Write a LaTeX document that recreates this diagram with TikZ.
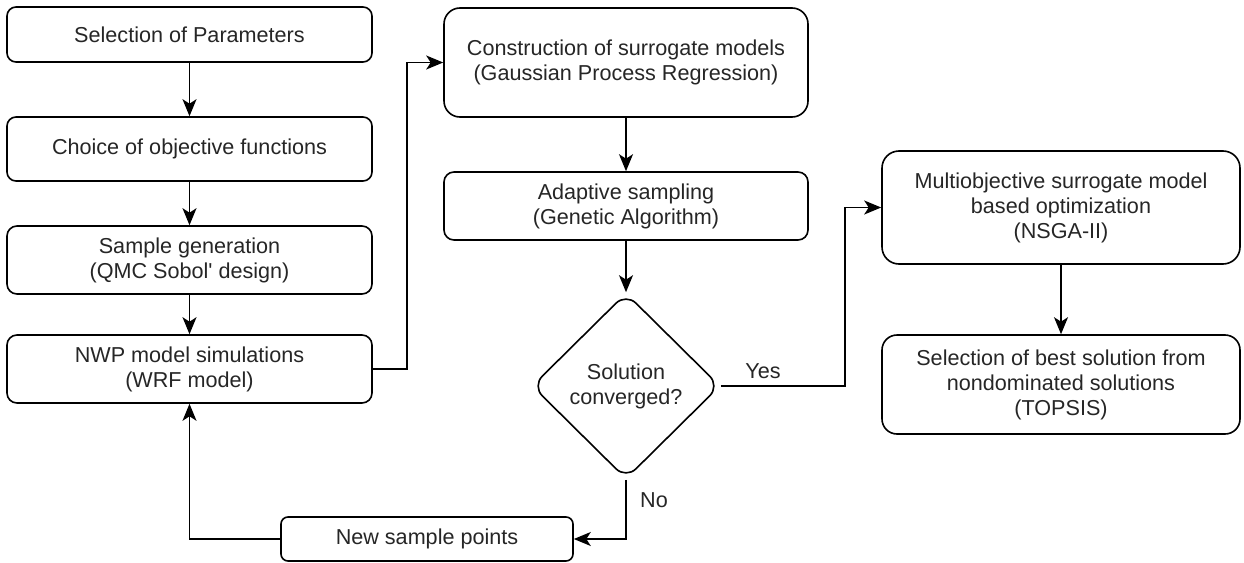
\documentclass[tikz,border=0pt]{standalone}
\usepackage{fontspec}
\setmainfont{Liberation Sans}
\usetikzlibrary{shapes.geometric,arrows.meta,calc}
\begin{document}
\begin{tikzpicture}[x=1pt,y=-1pt,
  every node/.style={font=\fontsize{21.6}{25}\selectfont, text=black!85},
  box/.style={draw, line width=1.6pt, rectangle, align=center, inner sep=0pt},
  flow/.style={draw, line width=1.6pt, -{Stealth[length=17pt,width=14pt,inset=4.5pt]}},
  plain/.style={draw, line width=1.6pt}]
\useasboundingbox (0,0) rectangle (1244,562);
\fill[white] (0,0) rectangle (1244,562);

\node[box, rounded corners=9pt, minimum width=365pt, minimum height=55pt] (sel) at (189.5,34.5) {Selection of Parameters};
\node[box, rounded corners=9pt, minimum width=365pt, minimum height=64pt] (choice) at (189.5,149) {Choice of objective functions};
\node[box, rounded corners=10pt, minimum width=365pt, minimum height=68pt] (sample) at (189.5,260) {Sample generation\\(QMC Sobol\textquotesingle{} design)};
\node[box, rounded corners=10pt, minimum width=365pt, minimum height=68pt] (nwp) at (189.5,369) {NWP model simulations\\(WRF model)};

\node[box, rounded corners=16pt, minimum width=364pt, minimum height=109pt] (cons) at (626,62.5) {Construction of surrogate models\\(Gaussian Process Regression)};
\node[box, rounded corners=10pt, minimum width=364pt, minimum height=68pt] (adapt) at (626,206) {Adaptive sampling\\(Genetic Algorithm)};
\node[draw, line width=1.6pt, diamond, rounded corners=14pt, minimum width=188pt, minimum height=186pt, inner sep=0pt, align=center] (dia) at (626,386) {Solution\\converged?};

\node[box, rounded corners=17pt, minimum width=358pt, minimum height=113pt] (multi) at (1061,207.5) {Multiobjective surrogate model\\based optimization\\(NSGA-II)};
\node[box, rounded corners=15pt, minimum width=358pt, minimum height=99pt] (best) at (1061,384.5) {Selection of best solution from\\nondominated solutions\\(TOPSIS)};

\node[box, rounded corners=7pt, minimum width=292pt, minimum height=44pt] (newsp) at (427,539) {New sample points};

\coordinate (jx) at (407,0);
\coordinate (jy) at (845,0);

\path[flow] (sel.south) -- (choice.north);
\path[flow] (choice.south) -- (sample.north);
\path[flow] (sample.south) -- (nwp.north);
\path[flow] (nwp.east) -- (nwp.east -| jx) |- (cons.west);
\path[flow] (cons.south) -- (adapt.north);
\path[flow] (adapt.south) -- (dia.north);
\path[flow] (dia.east) -- (dia.east -| jy) |- (multi.west);
\path[flow] (multi.south) -- (best.north);
\path[flow] (dia.south) |- (newsp.east);
\path[flow] (newsp.west) -| (nwp.south);

\node (yes) at (763,371) {Yes};
\node (no) at (654,500) {No};
\end{tikzpicture}
\end{document}
